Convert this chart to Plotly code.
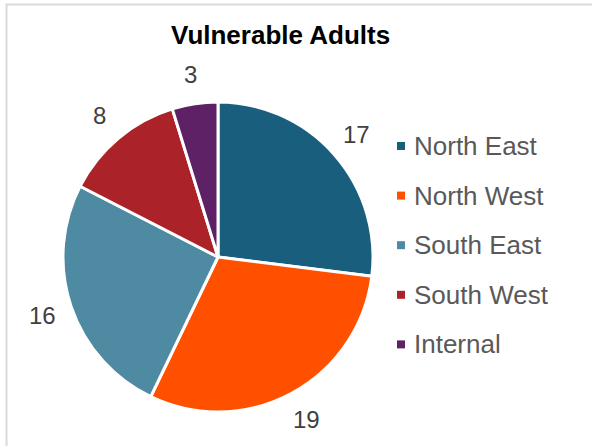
import math
import plotly.graph_objects as go

# Case counts by region
regions = ["North East", "North West", "South East", "South West", "Internal"]
cases = [17, 19, 16, 8, 3]
colors = ["#1A5E7E", "#FF5000", "#4F8AA3", "#AC2229", "#5E2166"]

chart_title = "Vulnerable Adults"

W, H = 592, 446
FONT = "Liberation Sans, Arial, sans-serif"

# pie geometry in pixels
cx, cy, r = 218, 257, 155
label_r = 185


def px(x):
    return x / W


def py(y):
    return 1 - y / H


fig = go.Figure(
    go.Pie(
        labels=regions,
        values=cases,
        marker=dict(colors=colors, line=dict(color="white", width=3)),
        sort=False,
        direction="clockwise",
        rotation=0,
        textinfo="none",
        hoverinfo="label+value",
        showlegend=False,
        domain=dict(x=[px(cx - r), px(cx + r)], y=[py(cy + r), py(cy - r)]),
    )
)

annotations = []
shapes = []

# value labels outside each slice, at the slice's mid angle
total = sum(cases)
start = 0.0
for v in cases:
    mid = (start + v / 2) / total * 2 * math.pi
    start += v
    lx = cx + label_r * math.sin(mid)
    ly = cy - label_r * math.cos(mid)
    annotations.append(dict(
        x=px(lx), y=py(ly), xref="paper", yref="paper",
        text=str(v), showarrow=False, xanchor="center", yanchor="middle",
        font=dict(family=FONT, size=24, color="#404040"),
    ))

# legend: colour squares with region names
leg_x, leg_y0, leg_dy, sq = 401, 146, 49.6, 8
for i, (name, col) in enumerate(zip(regions, colors)):
    yy = leg_y0 + i * leg_dy
    shapes.append(dict(
        type="rect", xref="paper", yref="paper",
        x0=px(leg_x - sq / 2), x1=px(leg_x + sq / 2),
        y0=py(yy + sq / 2), y1=py(yy - sq / 2),
        fillcolor=col, line=dict(width=0),
    ))
    annotations.append(dict(
        x=px(412), y=py(yy), xref="paper", yref="paper",
        text=name, showarrow=False, xanchor="left", yanchor="middle",
        font=dict(family=FONT, size=26, color="#595959"),
    ))

# chart title
annotations.append(dict(
    x=px(280), y=py(35), xref="paper", yref="paper",
    text="<b>" + chart_title + "</b>", showarrow=False,
    xanchor="center", yanchor="middle",
    font=dict(family=FONT, size=26, color="#000000"),
))

# chart frame
shapes.append(dict(
    type="rect", xref="paper", yref="paper",
    x0=px(6.5), x1=px(W + 20), y0=py(H + 20), y1=py(4.5),
    line=dict(color="#D9D9D9", width=2), fillcolor="rgba(0,0,0,0)",
    layer="below",
))

fig.update_layout(
    width=W, height=H,
    margin=dict(l=0, r=0, t=0, b=0),
    paper_bgcolor="white",
    plot_bgcolor="white",
    annotations=annotations,
    shapes=shapes,
)

fig.write_html("out.html")
